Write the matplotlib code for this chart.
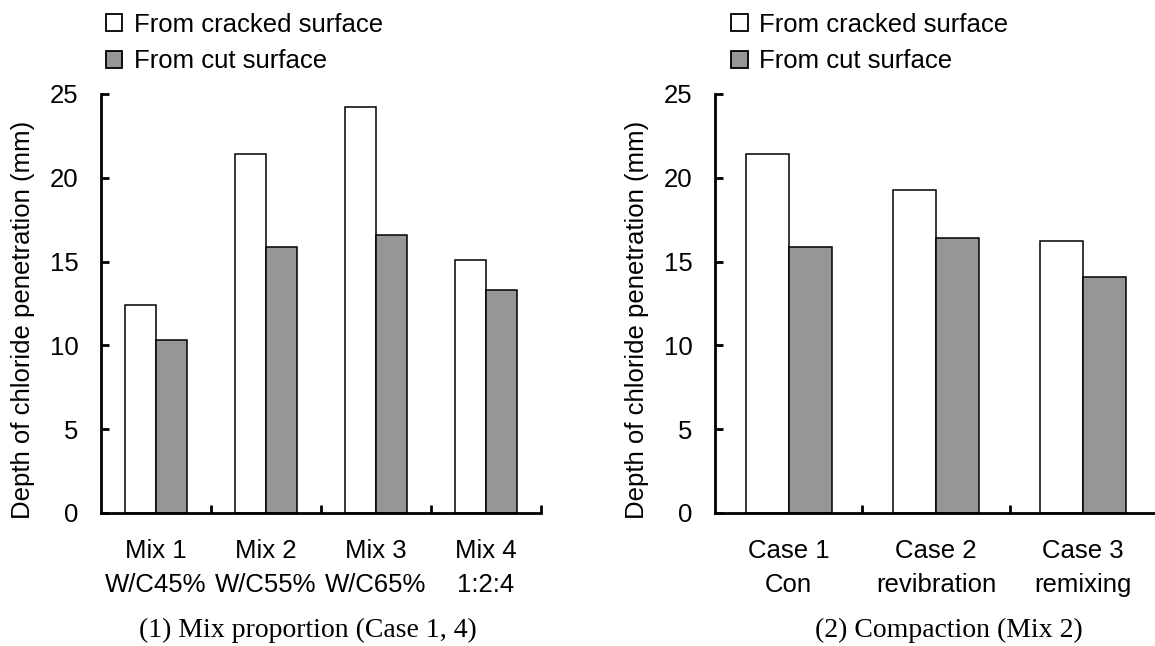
import matplotlib
matplotlib.use("Agg")
import matplotlib.pyplot as plt
import numpy as np
from matplotlib.patches import Patch

plt.rcParams['font.family'] = ['Liberation Sans', 'DejaVu Sans']

# (1) mix proportion
mix_labels = ["Mix 1\nW/C45%", "Mix 2\nW/C55%", "Mix 3\nW/C65%", "Mix 4\n1:2:4"]
mix_cracked = [12.4, 21.4, 24.2, 15.1]
mix_cut = [10.3, 15.9, 16.6, 13.3]

# (2) compaction
case_labels = ["Case 1\nCon", "Case 2\nrevibration", "Case 3\nremixing"]
case_cracked = [21.4, 19.3, 16.2]
case_cut = [15.9, 16.4, 14.1]

legend_names = ["From cracked surface", "From cut surface"]
titles = ["(1) Mix proportion (Case 1, 4)", "(2) Compaction (Mix 2)"]
ylab = "Depth of chloride penetration (mm)"

gray = "#969696"
fs = 18.5

fig = plt.figure(figsize=(11.55, 6.46), dpi=100)
ax1 = fig.add_axes([0.0872, 0.2059, 0.3812, 0.6486])
ax2 = fig.add_axes([0.619, 0.2059, 0.3827, 0.6486])


def draw(ax, labels, cracked, cut, w, title, tx, legx):
    x = np.arange(len(labels))
    ax.bar(x - w / 2, cracked, w, color="white", edgecolor="black", linewidth=1.1)
    ax.bar(x + w / 2, cut, w, color=gray, edgecolor="black", linewidth=1.1)
    ax.set_xlim(-0.5, len(labels) - 0.5)
    ax.set_ylim(0, 25)
    ax.set_yticks([0, 5, 10, 15, 20, 25])
    ax.set_xticks(x)
    ax.set_xticklabels(labels, fontsize=fs, linespacing=1.5)
    ax.set_xticks(x + 0.5, minor=True)
    ax.tick_params(axis="x", which="major", length=0, pad=19)
    ax.tick_params(axis="x", which="minor", direction="in", length=6, width=2)
    ax.tick_params(axis="y", direction="in", length=6, width=2, labelsize=fs, pad=16)
    for s in ["top", "right"]:
        ax.spines[s].set_visible(False)
    for s in ["left", "bottom"]:
        ax.spines[s].set_linewidth(2)
    ax.set_ylabel(ylab, fontsize=fs)
    ax.yaxis.set_label_coords(-0.15, 0.46)
    handles = [Patch(facecolor="white", edgecolor="black", linewidth=1.3),
               Patch(facecolor=gray, edgecolor="black", linewidth=1.3)]
    ax.legend(handles, legend_names, loc="upper left", bbox_to_anchor=(legx, 1.219),
              frameon=False, fontsize=fs, handlelength=0.65, handleheight=0.65,
              handletextpad=0.45, labelspacing=0.5, borderaxespad=0)
    fig.text(tx, 0.0248, title, fontsize=20, family="Liberation Serif",
             ha="center", va="center")


draw(ax1, mix_labels, mix_cracked, mix_cut, 0.281, titles[0], 308 / 1155, -0.012)
draw(ax2, case_labels, case_cracked, case_cut, 0.292, titles[1], 949 / 1155, 0.013)

fig.savefig("out.png", dpi=100)
